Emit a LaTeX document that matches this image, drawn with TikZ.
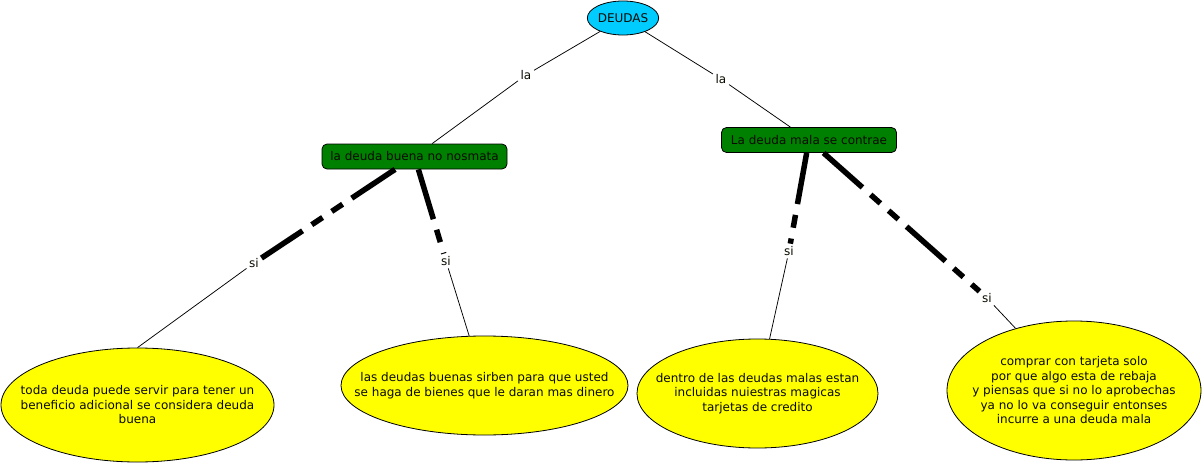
\documentclass[tikz,border=0pt]{standalone}
\usepackage{fontspec}
\setmainfont{DejaVu Sans}
\usetikzlibrary{shapes.geometric}
\definecolor{cyanfill}{RGB}{0,204,255}
\definecolor{greenfill}{RGB}{0,128,0}
\definecolor{yellowfill}{RGB}{255,255,0}
\definecolor{txt}{RGB}{10,10,0}
\begin{document}
\begin{tikzpicture}[x=1pt,y=-1pt,
  every node/.style={font=\fontsize{12}{14.5}\selectfont, text=txt},
  topnode/.style={ellipse, draw=black, fill=cyanfill, line width=0.8pt, minimum width=70pt, minimum height=34pt, inner sep=0pt},
  greenbox/.style={rectangle, rounded corners=5pt, draw=black, fill=greenfill, line width=0.8pt, minimum height=25pt, inner sep=0pt},
  leaf/.style={ellipse, draw=black, fill=yellowfill, line width=0.8pt, inner sep=0pt},
  leaftext/.style={align=center, inner sep=0pt},
  linklabel/.style={inner sep=2.5pt},
  thinlink/.style={line width=0.75pt, draw=black},
  thickdash/.style={line width=5.5pt, draw=black, dash pattern=on 52pt off 11pt on 13pt off 11pt on 13pt off 11pt}
]
\useasboundingbox (0,0) rectangle (1203,463);

% concepts
\node[topnode] (deudas) at (623,18) {DEUDAS};
\node[greenbox, minimum width=185pt] (g1) at (414.5,156.5) {la deuda buena no nosmata};
\node[greenbox, minimum width=175pt] (g2) at (809,140) {La deuda mala se contrae};

\node[leaf, minimum width=273pt, minimum height=114pt] (e1) at (137.5,405) {};
\node[leaftext] (t1) at (e1.center) {toda deuda puede servir para tener un\\beneficio adicional se considera deuda\\buena};
\node[leaf, minimum width=287pt, minimum height=99pt] (e2) at (484.5,385.5) {};
\node[leaftext] (t2) at (e2.center) {las deudas buenas sirben para que usted\\se haga de bienes que le daran mas dinero};
\node[leaf, minimum width=241pt, minimum height=109pt] (e3) at (757.5,393.5) {};
\node[leaftext] (t3) at (e3.center) {dentro de las deudas malas estan\\incluidas nuiestras magicas\\tarjetas de credito};
\node[leaf, minimum width=254pt, minimum height=139pt] (e4) at (1074,390.5) {};
\node[leaftext] (t4) at (e4.center) {comprar con tarjeta solo\\por que algo esta de rebaja\\y piensas que si no lo aprobechas\\ya no lo va conseguir entonses\\incurre a una deuda mala};

% linking phrases
\node[linklabel] (la1) at (526,75) {la};
\node[linklabel] (la2) at (721,79) {la};
\node[linklabel] (si1) at (254,263) {si};
\node[linklabel] (si2) at (446,261) {si};
\node[linklabel] (si3) at (789,251) {si};
\node[linklabel] (si4) at (987,298) {si};

% connectors
\draw[thinlink] (deudas) -- (la1);
\draw[thinlink] (la1) -- (g1);
\draw[thinlink] (deudas) -- (la2);
\draw[thinlink] (la2) -- (g2);

\draw[thickdash] (g1) -- (si1);
\draw[thinlink] (si1) -- (e1.north);
\draw[thickdash] (g1) -- (si2);
\draw[thinlink] (si2) -- (e2);
\draw[thickdash] (g2) -- (si3);
\draw[thinlink] (si3) -- (e3);
\draw[thickdash] (g2) -- (si4);
\draw[thinlink] (si4) -- (e4);
\end{tikzpicture}
\end{document}
